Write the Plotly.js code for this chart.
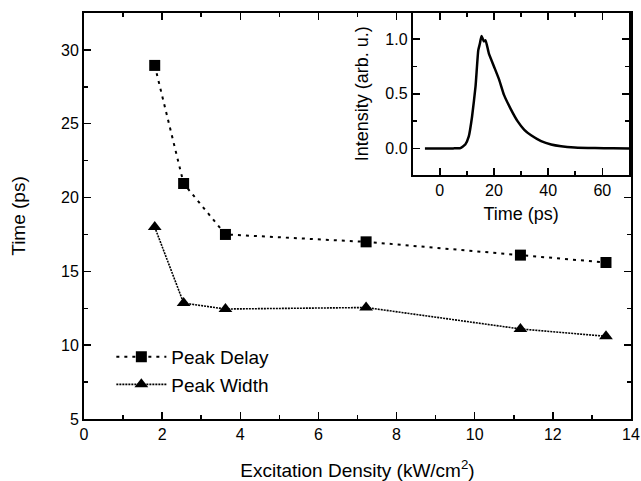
<!DOCTYPE html>
<html>
<head>
<meta charset="utf-8">
<script src="https://cdn.plot.ly/plotly-3.0.1.min.js"></script>
<style>html,body{margin:0;padding:0;background:#fff;}#chart{width:641px;height:481px;}</style>
</head>
<body>
<div id="chart"></div>
<script>
// Main chart data
const excitationDensity = [1.81, 2.55, 3.62, 7.22, 11.17, 13.36];
const peakDelay = [28.95, 20.95, 17.5, 17.0, 16.1, 15.6];
const peakWidth = [18.0, 12.85, 12.45, 12.55, 11.1, 10.6];

// Inset transient data
const insetTime = [-5.5, 0, 5, 7.6, 9.4, 10.7, 11.9, 13.2, 14.2, 14.8, 15.4, 16.3, 16.9, 18.1, 20, 21.9, 23.7, 26.2, 28.7, 31.2, 33.7, 37.4, 41.1, 44.8, 49.8, 57.3, 64, 70];
const insetIntensity = [0, 0, 0, 0.003, 0.036, 0.11, 0.29, 0.57, 0.9, 0.96, 1.03, 0.98, 0.99, 0.87, 0.75, 0.63, 0.49, 0.36, 0.25, 0.17, 0.12, 0.067, 0.036, 0.02, 0.009, 0.003, 0.001, 0];

const FONT = 'Liberation Sans, Arial, sans-serif';

const traces = [
  {
    x: excitationDensity, y: peakDelay, name: 'Peak Delay', type: 'scatter', mode: 'lines+markers',
    line: {color: '#000', width: 2, dash: '3px,5px'},
    marker: {symbol: 'square', size: 11, color: '#000'},
    xaxis: 'x', yaxis: 'y'
  },
  {
    x: excitationDensity, y: peakWidth, name: 'Peak Width', type: 'scatter', mode: 'lines+markers',
    line: {color: '#000', width: 1.6, dash: '2px,1px'},
    marker: {symbol: 'triangle-up', size: 12, color: '#000'},
    xaxis: 'x', yaxis: 'y'
  },
  {
    x: insetTime, y: insetIntensity, name: 'inset', type: 'scatter', mode: 'lines',
    line: {color: '#000', width: 2.5, shape: 'spline', smoothing: 0.4},
    showlegend: false, xaxis: 'x2', yaxis: 'y2'
  }
];

const axisCommon = {
  showgrid: false, zeroline: false, showline: true, linecolor: '#000', linewidth: 2,
  mirror: 'ticks', ticks: 'inside', ticklen: 7, tickwidth: 1.5, tickcolor: '#000',
  tickfont: {family: FONT, size: 16, color: '#000'}
};

const layout = {
  width: 641, height: 481,
  margin: {l: 84, r: 10, t: 13, b: 62},
  paper_bgcolor: '#fff', plot_bgcolor: '#fff',
  font: {family: FONT, color: '#000'},
  showlegend: true,
  legend: {
    x: 0.05, y: 0.2, xanchor: 'left', yanchor: 'top',
    bgcolor: 'rgba(0,0,0,0)', font: {family: FONT, size: 19, color: '#000'},
    itemwidth: 50, tracegroupgap: 0
  },
  xaxis: Object.assign({}, axisCommon, {
    domain: [0, 1], anchor: 'y', range: [0, 14], tick0: 0, dtick: 2,
    minor: {dtick: 1, ticks: 'inside', ticklen: 4, tickwidth: 1.5, tickcolor: '#000'},
    title: {text: 'Excitation Density (kW/cm<sup>2</sup>)', font: {family: FONT, size: 19, color: '#000'}, standoff: 22}
  }),
  yaxis: Object.assign({}, axisCommon, {
    domain: [0, 1], anchor: 'x', range: [5, 32.5], tick0: 5, dtick: 5,
    minor: {dtick: 2.5, ticks: 'inside', ticklen: 4, tickwidth: 1.5, tickcolor: '#000'},
    title: {text: 'Time (ps)', font: {family: FONT, size: 19, color: '#000'}, standoff: 30}
  }),
  xaxis2: Object.assign({}, axisCommon, {
    domain: [0.601, 0.997], anchor: 'y2', range: [-10, 70], tick0: 0, dtick: 20,
    minor: {dtick: 10, ticks: 'inside', ticklen: 4, tickwidth: 1.5, tickcolor: '#000'},
    title: {text: 'Time (ps)', font: {family: FONT, size: 18, color: '#000'}, standoff: 10}
  }),
  yaxis2: Object.assign({}, axisCommon, {
    domain: [0.602, 1], anchor: 'x2', range: [-0.24, 1.24], tick0: 0, dtick: 0.5, tickformat: '.1f',
    minor: {dtick: 0.25, ticks: 'inside', ticklen: 4, tickwidth: 1.5, tickcolor: '#000'},
    title: {text: 'Intensity (arb. u.)', font: {family: FONT, size: 18, color: '#000'}, standoff: 12}
  })
};

Plotly.newPlot('chart', traces, layout, {displayModeBar: false, staticPlot: true});
</script>
</body>
</html>
